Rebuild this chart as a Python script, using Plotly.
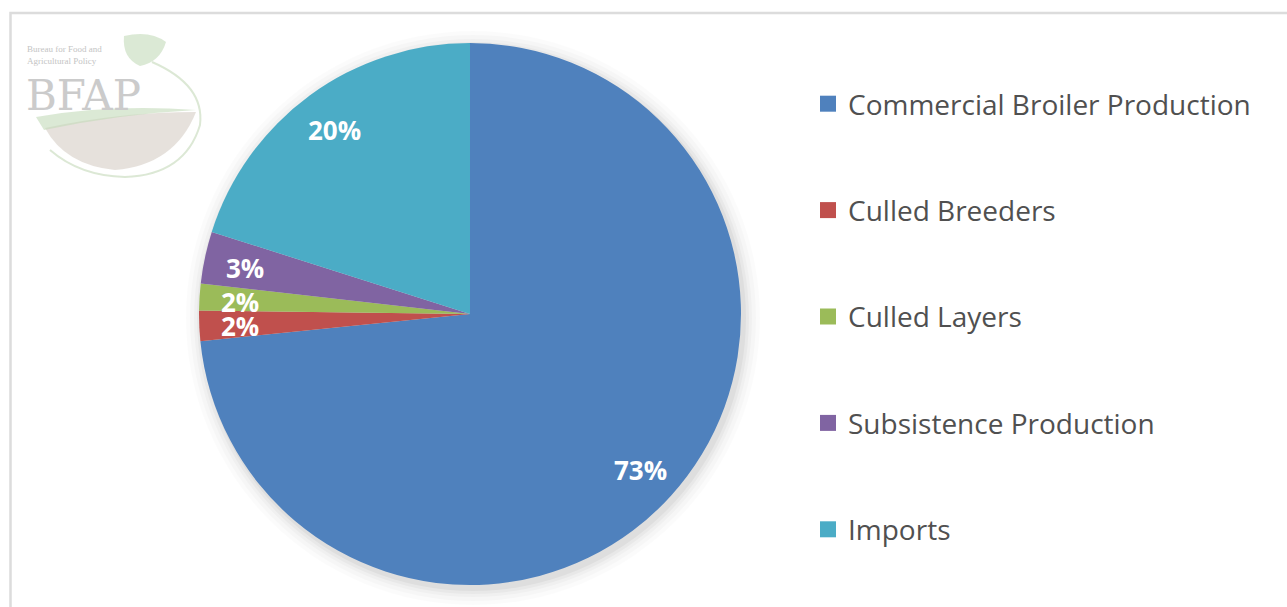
import math
import plotly.graph_objects as go

# ---- data ----
labels = ["Commercial Broiler Production", "Culled Breeders", "Culled Layers",
          "Subsistence Production", "Imports"]
values = [73.4, 1.8, 1.6, 3.1, 20.1]
colors = ["#4F81BD", "#C0504D", "#9BBB59", "#8064A2", "#4BACC6"]

W, H = 1287, 607
cx, cy, R = 470, 314, 271  # pie geometry in pixels


def px2paper(x, y):
    return x / W, 1 - y / H


fig = go.Figure()

fig.add_trace(go.Pie(
    labels=labels, values=values, sort=False, direction="clockwise", rotation=0,
    marker=dict(colors=colors, line=dict(width=0)),
    textinfo="none", hoverinfo="label+percent", showlegend=False,
    domain=dict(x=[(cx - R) / W, (cx + R) / W], y=[1 - (cy + R) / H, 1 - (cy - R) / H]),
))

# legend entries (one per category, for spacing control)
for i, (lab, col) in enumerate(zip(labels, colors)):
    fig.add_trace(go.Scatter(
        x=[None], y=[None], mode="markers", name=lab, legendgroup=f"g{i}",
        marker=dict(symbol="square", size=16, color=col),
        showlegend=True, hoverinfo="skip",
    ))

# percentage labels at mid-angle of each slice
total = sum(values)
annotations = []
cum = 0.0
for v in values:
    mid = (cum + v / 2) / total * 2 * math.pi
    cum += v
    r = 0.85 * R
    ax, ay = px2paper(cx + r * math.sin(mid), cy + 2 - r * math.cos(mid))
    annotations.append(dict(
        x=ax, y=ay, xref="paper", yref="paper", showarrow=False,
        xanchor="center", yanchor="middle",
        text=f"<b>{round(v / total * 100)}%</b>",
        font=dict(family="Open Sans", size=26, color="white"),
    ))

# watermark logo (BFAP)
x0, y0 = px2paper(25, 42)
annotations.append(dict(x=x0, y=y0, xref="paper", yref="paper", xanchor="left",
                        yanchor="top", showarrow=False, align="left",
                        text="Bureau for Food and<br>Agricultural Policy",
                        font=dict(family="Liberation Serif", size=9, color="#c4c4c4")))
x0, y0 = px2paper(24, 95)
annotations.append(dict(x=x0, y=y0, xref="paper", yref="paper", xanchor="left",
                        yanchor="middle", showarrow=False, text="BFAP",
                        font=dict(family="DejaVu Serif", size=42, color="#cbcbcb")))


def path(cmds):
    out = []
    for c in cmds:
        if isinstance(c, str):
            out.append(c)
        else:
            xx, yy = px2paper(*c)
            out.append(f"{xx},{yy}")
    return " ".join(out)


shapes = []
# soft shadow around pie
for k, a in [(16, 0.015), (12, 0.02), (8, 0.025), (5, 0.03), (2, 0.04)]:
    xa, ya = px2paper(cx + 3 - R - k, cy + 4 + R + k)
    xb, yb = px2paper(cx + 3 + R + k, cy + 4 - R - k)
    shapes.append(dict(type="circle", xref="paper", yref="paper", x0=xa, x1=xb, y0=ya, y1=yb,
                       fillcolor=f"rgba(0,0,0,{a})", line=dict(width=0), layer="below"))

shapes += [
    # outer frame
    dict(type="rect", xref="paper", yref="paper", x0=10.5 / W, x1=1.05, y0=-0.05, y1=1 - 13 / H,
         line=dict(color="#dcdcdc", width=2.5), layer="below"),
    # logo: brown earth
    dict(type="path", xref="paper", yref="paper",
         path=path(["M", (45, 128), "Q", (120, 112), (196, 112), "Q", (175, 165), (115, 170),
                    "Q", (65, 165), (45, 128), "Z"]),
         fillcolor="rgba(205,195,185,0.5)", line=dict(width=0), layer="below"),
    # logo: green band
    dict(type="path", xref="paper", yref="paper",
         path=path(["M", (36, 117), "Q", (110, 104), (196, 110), "Q", (120, 114), (44, 130), "Z"]),
         fillcolor="rgba(195,218,185,0.6)", line=dict(width=0), layer="below"),
    # logo: leaf
    dict(type="path", xref="paper", yref="paper",
         path=path(["M", (124, 36), "Q", (150, 30), (166, 42), "Q", (160, 62), (140, 66),
                    "Q", (122, 58), (124, 36), "Z"]),
         fillcolor="rgba(195,218,185,0.6)", line=dict(width=0), layer="below"),
    # logo: ring
    dict(type="path", xref="paper", yref="paper",
         path=path(["M", (152, 62), "Q", (205, 85), (200, 125), "Q", (185, 175), (125, 177),
                    "Q", (80, 176), (50, 150)]),
         line=dict(color="rgba(205,222,195,0.7)", width=2), layer="below"),
]

fig.update_layout(
    width=W, height=H, margin=dict(l=0, r=0, t=0, b=0),
    paper_bgcolor="white", plot_bgcolor="rgba(0,0,0,0)",
    xaxis=dict(visible=False), yaxis=dict(visible=False),
    annotations=annotations, shapes=shapes,
    legend=dict(x=808 / W, y=1 - 79 / H, xanchor="left", yanchor="top",
                font=dict(family="Open Sans", size=28, color="#505050"),
                traceorder="grouped", tracegroupgap=67, bgcolor="rgba(0,0,0,0)"),
)

fig.write_html("out.html")
